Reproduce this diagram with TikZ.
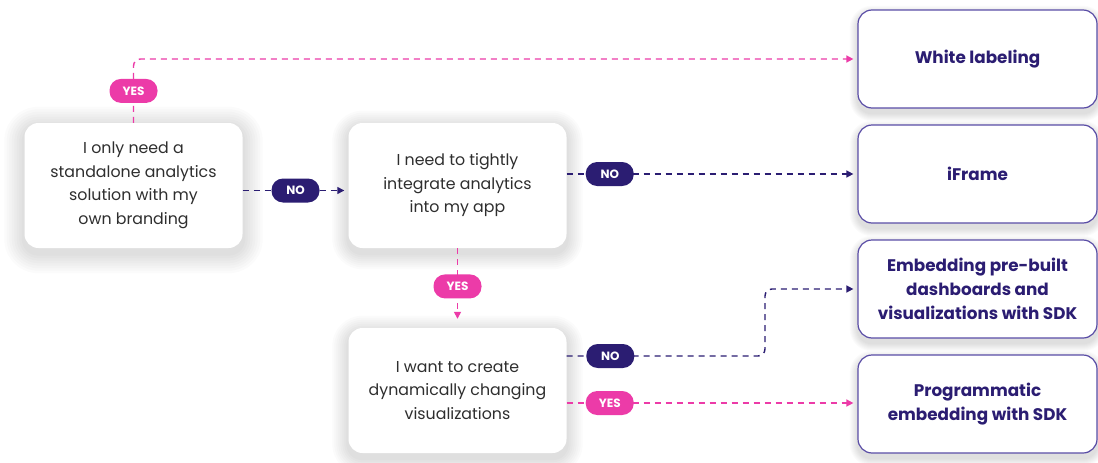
\documentclass[tikz,border=0pt]{standalone}
\usepackage{fontspec}
\setmainfont{Poppins}
\usetikzlibrary{arrows.meta}
\definecolor{navy}{HTML}{2B1D72}
\definecolor{pinkc}{HTML}{EC3BA8}
\definecolor{boxline}{HTML}{5A4DA6}
\definecolor{qtext}{HTML}{2E2E2E}
\newcommand{\softshadow}[2]{% #1 node name, #2 max spread
  \foreach \k in {1,...,8}{
    \fill[black, opacity=0.014, rounded corners=14pt+\k*#2/8]
      ([xshift=-\k*#2/8, yshift=\k*#2/8-4pt]#1.north west) rectangle
      ([xshift=\k*#2/8, yshift=-\k*#2/8-5pt]#1.south east);
  }}
\begin{document}
\begin{tikzpicture}[x=1pt,y=-1pt,
  qbox/.style={fill=white, rounded corners=14pt, minimum width=218pt, minimum height=125pt,
    align=center, inner sep=0pt, text=qtext, font=\fontsize{15.8}{23.5}\selectfont},
  abox/.style={draw=boxline, line width=1.2pt, fill=white, rounded corners=14pt,
    minimum width=239pt, minimum height=98pt, align=center, inner sep=0pt, text=navy,
    font=\bfseries\fontsize{16.8}{24}\selectfont},
  ph/.style={inner sep=0pt},
  badge/.style={rectangle, rounded corners=11.5pt, minimum width=48pt, minimum height=24pt, inner sep=0pt,
    text=white, font=\bfseries\fontsize{12}{13}\selectfont},
  yes/.style={badge, fill=pinkc},
  no/.style={badge, fill=navy},
  conn/.style={line width=1.4pt, dash pattern=on 6pt off 5pt, rounded corners=7pt,
    -{Triangle[length=7pt,width=7pt]}, shorten >=4pt},
  pline/.style={conn, draw=pinkc},
  nline/.style={conn, draw=navy}
]
\useasboundingbox[fill=white] (0,0) rectangle (1098,463);

% shadows
\node[ph, minimum width=218pt, minimum height=125pt] (s1) at (133.5,185.5) {};
\node[ph, minimum width=218pt, minimum height=125pt] (s2) at (457.5,185.5) {};
\node[ph, minimum width=218pt, minimum height=125pt] (s3) at (457.5,390.5) {};
\softshadow{s1}{20pt}
\softshadow{s2}{16pt}
\softshadow{s3}{16pt}
\foreach \yy in {59,174,289,404}{
  \node[ph, minimum width=239pt, minimum height=98pt] (sh) at (977.5,\yy) {};
  \softshadow{sh}{8pt}
}

% question boxes
\node[qbox] (q1) at (133.5,185.5) {I only need a\\standalone analytics\\solution with my\\own branding};
\node[qbox] (q2) at (457.5,185.5) {I need to tightly\\integrate analytics\\into my app};
\node[qbox] (q3) at (457.5,390.5) {I want to create\\dynamically changing\\visualizations};

% answer boxes
\node[abox] (a1) at (977.5,59) {White labeling};
\node[abox] (a2) at (977.5,174) {iFrame};
\node[abox] (a3) at (977.5,289) {Embedding pre-built\\dashboards and\\visualizations with SDK};
\node[abox] (a4) at (977.5,404) {Programmatic\\embedding with SDK};

% connectors
\draw[pline] (q1.north) -- node[yes]{YES} (q1.north |- a1.west) -- (a1.west);
\draw[nline] ([yshift=-5pt]q1.east) -- node[no]{NO} ([yshift=-5pt]q2.west);
\draw[nline] (q2.east |- a2.west) -- node[no,pos=0.148]{NO} (a2.west);
\draw[pline, shorten >=9pt] (q2.south) -- node[yes,pos=0.48]{YES} (q3.north);
\coordinate (bend) at (765,356);
\draw[nline] (q3.east |- bend) -- node[no,pos=0.22]{NO} (bend) -- (bend |- a3.west) -- (a3.west);
\draw[pline] ([yshift=1pt]q3.east |- a4.west) -- node[yes,pos=0.148]{YES} ([yshift=1pt]a4.west);
\end{tikzpicture}
\end{document}
